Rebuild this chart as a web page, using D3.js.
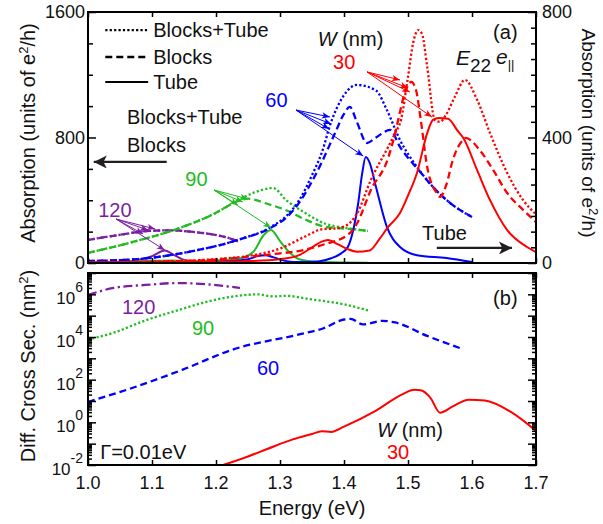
<!DOCTYPE html>
<html><head><meta charset="utf-8">
<script src="https://cdn.jsdelivr.net/npm/d3@7"></script>
<style>
body{margin:0;background:#fff}
text{font-family:"Liberation Sans",Arial,sans-serif;fill:#111}
</style>
</head><body>
<svg id="c" width="603" height="524"></svg>
<script>
// ---------------- DATA ----------------
const energyTicks = [1.0,1.1,1.2,1.3,1.4,1.5,1.6,1.7];
const absLeftTicks = [0,800,1600];
const absRightTicks = [0,400,800];
const crossSecLabelExps = [-2,0,2,4,6];
const widths = ["30","60","90","120"];

// (a) Absorption, left axis (units of e^2/h): [energy eV, value]
const w30BlocksTube = [[1.0,3],[1.1,8],[1.2,25],[1.25,45],[1.3,92],[1.34,170],[1.365,215],[1.385,220],[1.40,232],[1.42,312],[1.442,530],[1.469,740],[1.48,829],[1.489,911],[1.50,1186],[1.508,1403],[1.516,1485],[1.522,1460],[1.53,1250],[1.542,911],[1.55,900],[1.56,950],[1.573,1058],[1.589,1167],[1.608,1040],[1.628,830],[1.655,574],[1.68,400],[1.70,310]];
const w30Blocks = [[1.0,3],[1.1,8],[1.2,22],[1.25,40],[1.286,55],[1.339,85],[1.37,120],[1.409,190],[1.42,250],[1.442,465],[1.469,670],[1.48,829],[1.484,900],[1.495,1084],[1.505,1154],[1.5125,1103],[1.52,911],[1.53,612],[1.545,446],[1.55,421],[1.56,500],[1.57,657],[1.586,784],[1.59,797],[1.612,720],[1.633,593],[1.655,446],[1.68,338],[1.70,261]];
const w60BlocksTube = [[1.0,13],[1.078,25],[1.156,70],[1.234,147],[1.286,230],[1.31,300],[1.33,400],[1.35,560],[1.365,700],[1.38,900],[1.40,1070],[1.42,1135],[1.45,1100],[1.467,975],[1.4875,784],[1.514,612],[1.539,485],[1.566,382],[1.60,293]];
const w60Blocks = [[1.0,13],[1.078,25],[1.156,70],[1.234,147],[1.286,225],[1.31,290],[1.33,385],[1.35,520],[1.365,640],[1.386,829],[1.40,950],[1.409,995],[1.42,900],[1.436,765],[1.45,800],[1.472,848],[1.4875,740],[1.503,656],[1.514,605],[1.539,485],[1.566,382],[1.60,293]];
const w90BlocksTube = [[1.0,64],[1.07,134],[1.148,230],[1.2,320],[1.227,382],[1.26,450],[1.289,478],[1.31,400],[1.339,320],[1.371,250],[1.40,225],[1.4375,205]];
const w90Blocks = [[1.0,64],[1.07,134],[1.148,230],[1.2,320],[1.227,382],[1.25,410],[1.281,376],[1.305,344],[1.338,280],[1.371,230],[1.40,220],[1.4375,205]];
const w120BlocksTube = [[1.0,147],[1.05,180],[1.097,205],[1.13,208],[1.16,200],[1.19,185],[1.215,165],[1.237,134]];
const w120Blocks = [[1.0,147],[1.05,180],[1.097,205],[1.13,208],[1.16,200],[1.19,185],[1.215,165],[1.237,134]];

// (a) Absorption, right axis (Tube)
const w30Tube = [[1.0,1],[1.1,2],[1.2,4],[1.25,6],[1.3,12],[1.33,25],[1.35,50],[1.365,68],[1.375,73],[1.39,60],[1.405,45],[1.42,36],[1.44,40],[1.455,75],[1.469,115],[1.4875,159],[1.50,215],[1.514,287],[1.53,414],[1.539,456],[1.548,462],[1.5625,460],[1.578,420],[1.586,400],[1.608,296],[1.628,201],[1.655,105],[1.686,51],[1.70,35]];
const w60Tube = [[1.0,1],[1.1,2],[1.2,4],[1.25,12],[1.265,22],[1.277,25],[1.29,18],[1.31,6],[1.33,3],[1.36,5],[1.38,15],[1.395,30],[1.406,51],[1.415,110],[1.422,188],[1.428,280],[1.434,338],[1.44,320],[1.45,242],[1.467,115],[1.4875,51],[1.514,25],[1.56,16],[1.60,3]];
const w90Tube = [[1.0,2],[1.05,4],[1.1,7],[1.13,8],[1.16,6],[1.2,8],[1.234,13],[1.258,35],[1.275,90],[1.286,105],[1.30,70],[1.312,40],[1.33,12],[1.36,4],[1.4375,1]];
const w120Tube = [[1.0,1],[1.05,3],[1.078,10],[1.10,22],[1.12,40],[1.135,25],[1.15,10],[1.17,4],[1.2,2],[1.237,1]];

// (b) Differential cross section, log10 of nm^2
const w30CrossLog10 = [[1.211,-2.0],[1.25,-1.6],[1.28,-1.25],[1.32,-0.8],[1.35,-0.55],[1.365,-0.42],[1.38,-0.45],[1.40,-0.2],[1.45,0.55],[1.49,1.3],[1.51,1.53],[1.52,1.5],[1.535,1.15],[1.55,0.45],[1.57,0.75],[1.595,1.06],[1.62,1.02],[1.66,0.5],[1.70,-0.4]];
const w60CrossLog10 = [[1.0,0.96],[1.07,1.62],[1.148,2.47],[1.226,3.41],[1.33,4.12],[1.367,4.4],[1.40,4.82],[1.41,4.85],[1.43,4.59],[1.46,4.76],[1.48,4.68],[1.53,4.05],[1.586,3.43]];
const w90CrossLog10 = [[1.0,3.88],[1.04,4.2],[1.09,4.78],[1.14,5.25],[1.195,5.72],[1.24,5.95],[1.265,6.0],[1.29,5.9],[1.31,5.93],[1.345,5.78],[1.40,5.53],[1.4375,5.25]];
const w120CrossLog10 = [[1.0,5.97],[1.04,6.3],[1.09,6.44],[1.14,6.53],[1.19,6.46],[1.2375,6.3]];

// ---------------- DRAWING ----------------
const svg = d3.select("#c");
const L=88, R=536, T1=12, B1=263, T2=273, B2=465;
const x = d3.scaleLinear().domain([1.0,1.7]).range([L,R]);
const yL = d3.scaleLinear().domain([0,1600]).range([B1,T1]);
const yR = d3.scaleLinear().domain([0,800]).range([B1,T1]);
const yB = d3.scaleLog().domain([1e-2,1e7]).range([B2,T2]);

const col = {"30":"#ff0000","60":"#0000ff","90":"#22bb22","120":"#7b1fa2"};
const ink = "#231f20";

const defs = svg.append("defs");
defs.append("clipPath").attr("id","clipA").append("rect").attr("x",L).attr("y",T1).attr("width",R-L).attr("height",B1-T1);
defs.append("clipPath").attr("id","clipB").append("rect").attr("x",L).attr("y",T2).attr("width",R-L).attr("height",B2-T2);
Object.entries(col).forEach(([k,c])=>{
  defs.append("marker").attr("id","ah"+k).attr("viewBox","0 0 10 10").attr("refX",10).attr("refY",5)
    .attr("markerWidth",10).attr("markerHeight",8).attr("markerUnits","userSpaceOnUse").attr("orient","auto")
    .append("path").attr("d","M0,1 L10,5 L0,9 L2.5,5 Z").attr("fill",c);
});
defs.append("marker").attr("id","ahBig").attr("viewBox","0 0 10 10").attr("refX",10).attr("refY",5)
  .attr("markerWidth",16).attr("markerHeight",13).attr("markerUnits","userSpaceOnUse").attr("orient","auto")
  .append("path").attr("d","M0,0 L10,5 L0,10 L2.5,5 Z").attr("fill",ink);

const styles = {
  dotted:{dash:"2.2,2.2",w:2.3},
  dashed:{dash:"7,4",w:2.3},
  solid:{dash:null,w:2},
  dashdot:{dash:"9,3.5,2.2,3.5",w:2.3}
};
function drawLine(g, data, ys, color, st){
  const line = d3.line().x(d=>x(d[0])).y(d=>ys(d[1])).curve(d3.curveMonotoneX);
  g.append("path").datum(data).attr("d",line).attr("fill","none").attr("stroke",color)
    .attr("stroke-width",styles[st].w).attr("stroke-dasharray",styles[st].dash)
    .attr("stroke-linejoin","round");
}

// ---- panel (a) curves
const gA = svg.append("g").attr("clip-path","url(#clipA)");
const panelA = [
  ["120",w120BlocksTube,w120Blocks,w120Tube],
  ["90",w90BlocksTube,w90Blocks,w90Tube],
  ["60",w60BlocksTube,w60Blocks,w60Tube],
  ["30",w30BlocksTube,w30Blocks,w30Tube]
];
panelA.forEach(([w,bt,b,t])=>{
  drawLine(gA,bt,yL,col[w],"dotted");
  drawLine(gA,b,yL,col[w],"dashed");
  drawLine(gA,t,yR,col[w],"solid");
});

// ---- panel (b) curves
const gB = svg.append("g").attr("clip-path","url(#clipB)");
const pow = arr => arr.map(d=>[d[0],Math.pow(10,d[1])]);
drawLine(gB,pow(w120CrossLog10),yB,col["120"],"dashdot");
drawLine(gB,pow(w90CrossLog10),yB,col["90"],"dotted");
drawLine(gB,pow(w60CrossLog10),yB,col["60"],"dashed");
drawLine(gB,pow(w30CrossLog10),yB,col["30"],"solid");

// ---- frames
[[T1,B1],[T2,B2]].forEach(([t,b])=>{
  svg.append("rect").attr("x",L).attr("y",t).attr("width",R-L).attr("height",b-t)
    .attr("fill","none").attr("stroke","#000").attr("stroke-width",2);
});

// ---- ticks helper
function ticks(axisFn, scale, vals, size, tx, ty){
  const a = axisFn(scale).tickValues(vals).tickSize(size).tickFormat("");
  const g = svg.append("g").attr("transform",`translate(${tx},${ty})`).call(a);
  g.select(".domain").remove();
  g.selectAll("line").attr("stroke","#000").attr("stroke-width",1.5);
  return g;
}
// panel (a)
ticks(d3.axisTop, x, energyTicks, -5, 0, T1);
ticks(d3.axisBottom, x, energyTicks, -5, 0, B1);
ticks(d3.axisLeft, yL, absLeftTicks, -8, L, 0);
ticks(d3.axisLeft, yL, d3.range(200,1600,200).filter(v=>v!==800), -5, L, 0);
ticks(d3.axisRight, yR, absRightTicks, -8, R, 0);
ticks(d3.axisRight, yR, d3.range(50,800,50).filter(v=>v!==400), -5, R, 0);
// panel (b)
ticks(d3.axisTop, x, energyTicks, -5, 0, T2);
ticks(d3.axisBottom, x, energyTicks, -5, 0, B2);
const decades = d3.range(-2,8).map(e=>Math.pow(10,e)).filter(v=>v<=1e7);
const minors = [];
d3.range(-2,7).forEach(e=>{ for(let k=2;k<=9;k++) minors.push(k*Math.pow(10,e)); });
ticks(d3.axisLeft, yB, decades, -8, L, 0);
ticks(d3.axisLeft, yB, minors, -4, L, 0);
ticks(d3.axisRight, yB, decades, -8, R, 0);
ticks(d3.axisRight, yB, minors, -4, R, 0);

// ---- tick labels
const fs = 18;
absLeftTicks.forEach(v=>{
  svg.append("text").attr("x",L-3).attr("y",yL(v)).attr("dy","0.36em").attr("text-anchor","end")
    .attr("font-size",fs).text(v);
});
absRightTicks.forEach(v=>{
  svg.append("text").attr("x",R+6).attr("y",yR(v)).attr("dy","0.36em").attr("text-anchor","start")
    .attr("font-size",fs).text(v);
});
energyTicks.forEach(v=>{
  svg.append("text").attr("x",x(v)).attr("y",B2+24).attr("text-anchor","middle")
    .attr("font-size",fs).text(v.toFixed(1));
});
crossSecLabelExps.forEach(e=>{
  const yy = yB(Math.pow(10,e));
  const t = svg.append("text").attr("x",L-5).attr("y",yy+10).attr("text-anchor","end").attr("font-size",17);
  t.append("tspan").text("10");
  t.append("tspan").attr("dy",-12).attr("font-size",14).text(e);
});

// ---- axis titles
function rotTitle(tx,ty,rot,parts,size){
  const t = svg.append("text").attr("transform",`translate(${tx},${ty}) rotate(${rot})`)
    .attr("text-anchor","middle").attr("font-size",size||20);
  parts.forEach(p=>{
    const s = t.append("tspan").text(p.t);
    if(p.sup){ s.attr("dy",-7).attr("font-size",13); }
    if(p.back){ s.attr("dy",7); }
  });
}
rotTitle(35,133,-90,[{t:"Absorption (units of e"},{t:"2",sup:true},{t:"/h)",back:true}]);
rotTitle(582,133,90,[{t:"Absorption (units of e"},{t:"2",sup:true},{t:"/h)",back:true}],19);
rotTitle(35,366,-90,[{t:"Diff. Cross Sec. (nm"},{t:"2",sup:true},{t:")",back:true}]);
svg.append("text").attr("x",x(1.35)).attr("y",515).attr("text-anchor","middle").attr("font-size",20).text("Energy (eV)");

// ---- legend (a)
const legendRows = [["Blocks+Tube","dotted",1485],["Blocks","dashed",1313],["Tube","solid",1154]];
legendRows.forEach(([lab,st,v])=>{
  svg.append("line").attr("x1",x(1.027)).attr("x2",x(1.094)).attr("y1",yL(v)).attr("y2",yL(v))
    .attr("stroke","#000").attr("stroke-width",styles[st].w).attr("stroke-dasharray",styles[st].dash);
  svg.append("text").attr("x",x(1.102)).attr("y",yL(v)).attr("dy","0.36em").attr("font-size",20).text(lab);
});

// ---- annotations (a)
function txt(px,py,s,c,size){ return svg.append("text").attr("x",px).attr("y",py).attr("font-size",size||20).style("fill",c||"#111").text(s); }
txt(x(1.061),yL(886),"Blocks+Tube");
txt(x(1.061),yL(708),"Blocks");
txt(x(1.522),yR(73),"Tube");
txt(x(1.633),yL(1428),"(a)");
const wl = svg.append("text").attr("x",x(1.359)).attr("y",yL(1383)).attr("font-size",20);
wl.append("tspan").attr("font-style","italic").text("W");
wl.append("tspan").text(" (nm)");
txt(x(1.383),yL(1237),"30",col["30"]);
const e22 = svg.append("text").attr("x",x(1.575)).attr("y",yL(1262)).attr("font-size",21);
e22.append("tspan").attr("font-style","italic").text("E");
e22.append("tspan").attr("dy",7).attr("font-size",19).text("22");
const epar = svg.append("text").attr("x",x(1.6375)).attr("y",yL(1270)).attr("font-size",21);
epar.append("tspan").attr("font-style","italic").text("e");
epar.append("tspan").attr("dy",5).attr("font-size",13).text("||");
txt(x(1.277),yL(994),"60",col["60"]);
txt(x(1.152),yL(491),"90",col["90"]);
txt(x(1.016),yL(293),"120",col["120"]);

// colored arrows: source (E, left value) -> targets
const arrowSets = [
  {w:"60", src:[1.325,975], tgts:[[1.378,931,"L"],[1.380,886,"L"],[1.377,854,"L"],[1.430,341,"R"]]},
  {w:"30", src:[1.436,1218], tgts:[[1.4875,1167,"L"],[1.50,1116,"L"],[1.503,1090,"L"],[1.5375,465,"R"]]},
  {w:"90", src:[1.197,465], tgts:[[1.25,408,"L"],[1.242,389,"L"],[1.234,370,"L"],[1.286,112,"R"]]},
  {w:"120", src:[1.044,280], tgts:[[1.105,217,"L"],[1.094,210,"L"],[1.086,185,"L"],[1.120,41,"R"]]}
];
arrowSets.forEach(s=>{
  s.tgts.forEach(t=>{
    svg.append("line").attr("x1",x(s.src[0])).attr("y1",yL(s.src[1]))
      .attr("x2",x(t[0])).attr("y2",t[2]==="L"?yL(t[1]):yR(t[1]))
      .attr("stroke",col[s.w]).attr("stroke-width",1).attr("marker-end",`url(#ah${s.w})`);
  });
});
// black arrows
svg.append("line").attr("x1",x(1.123)).attr("x2",x(1.009)).attr("y1",yL(644)).attr("y2",yL(644))
  .attr("stroke",ink).attr("stroke-width",2.2).attr("marker-end","url(#ahBig)");
svg.append("line").attr("x1",x(1.545)).attr("x2",x(1.6625)).attr("y1",yR(48)).attr("y2",yR(48))
  .attr("stroke",ink).attr("stroke-width",2.2).attr("marker-end","url(#ahBig)");

// ---- annotations (b)
const yBl = v=>yB(Math.pow(10,v));
txt(x(1.053),yBl(5.08),"120",col["120"]);
txt(x(1.1625),yBl(4.09),"90",col["90"]);
txt(x(1.264),yBl(2.22),"60",col["60"]);
txt(x(1.019),yBl(-1.72),"\u0393=0.01eV");
txt(x(1.633),yBl(5.5),"(b)");
const wl2 = svg.append("text").attr("x",x(1.452)).attr("y",yBl(-0.69)).attr("font-size",20);
wl2.append("tspan").attr("font-style","italic").text("W");
wl2.append("tspan").text(" (nm)");
txt(x(1.467),yBl(-1.72),"30",col["30"]);
</script>
</body></html>
